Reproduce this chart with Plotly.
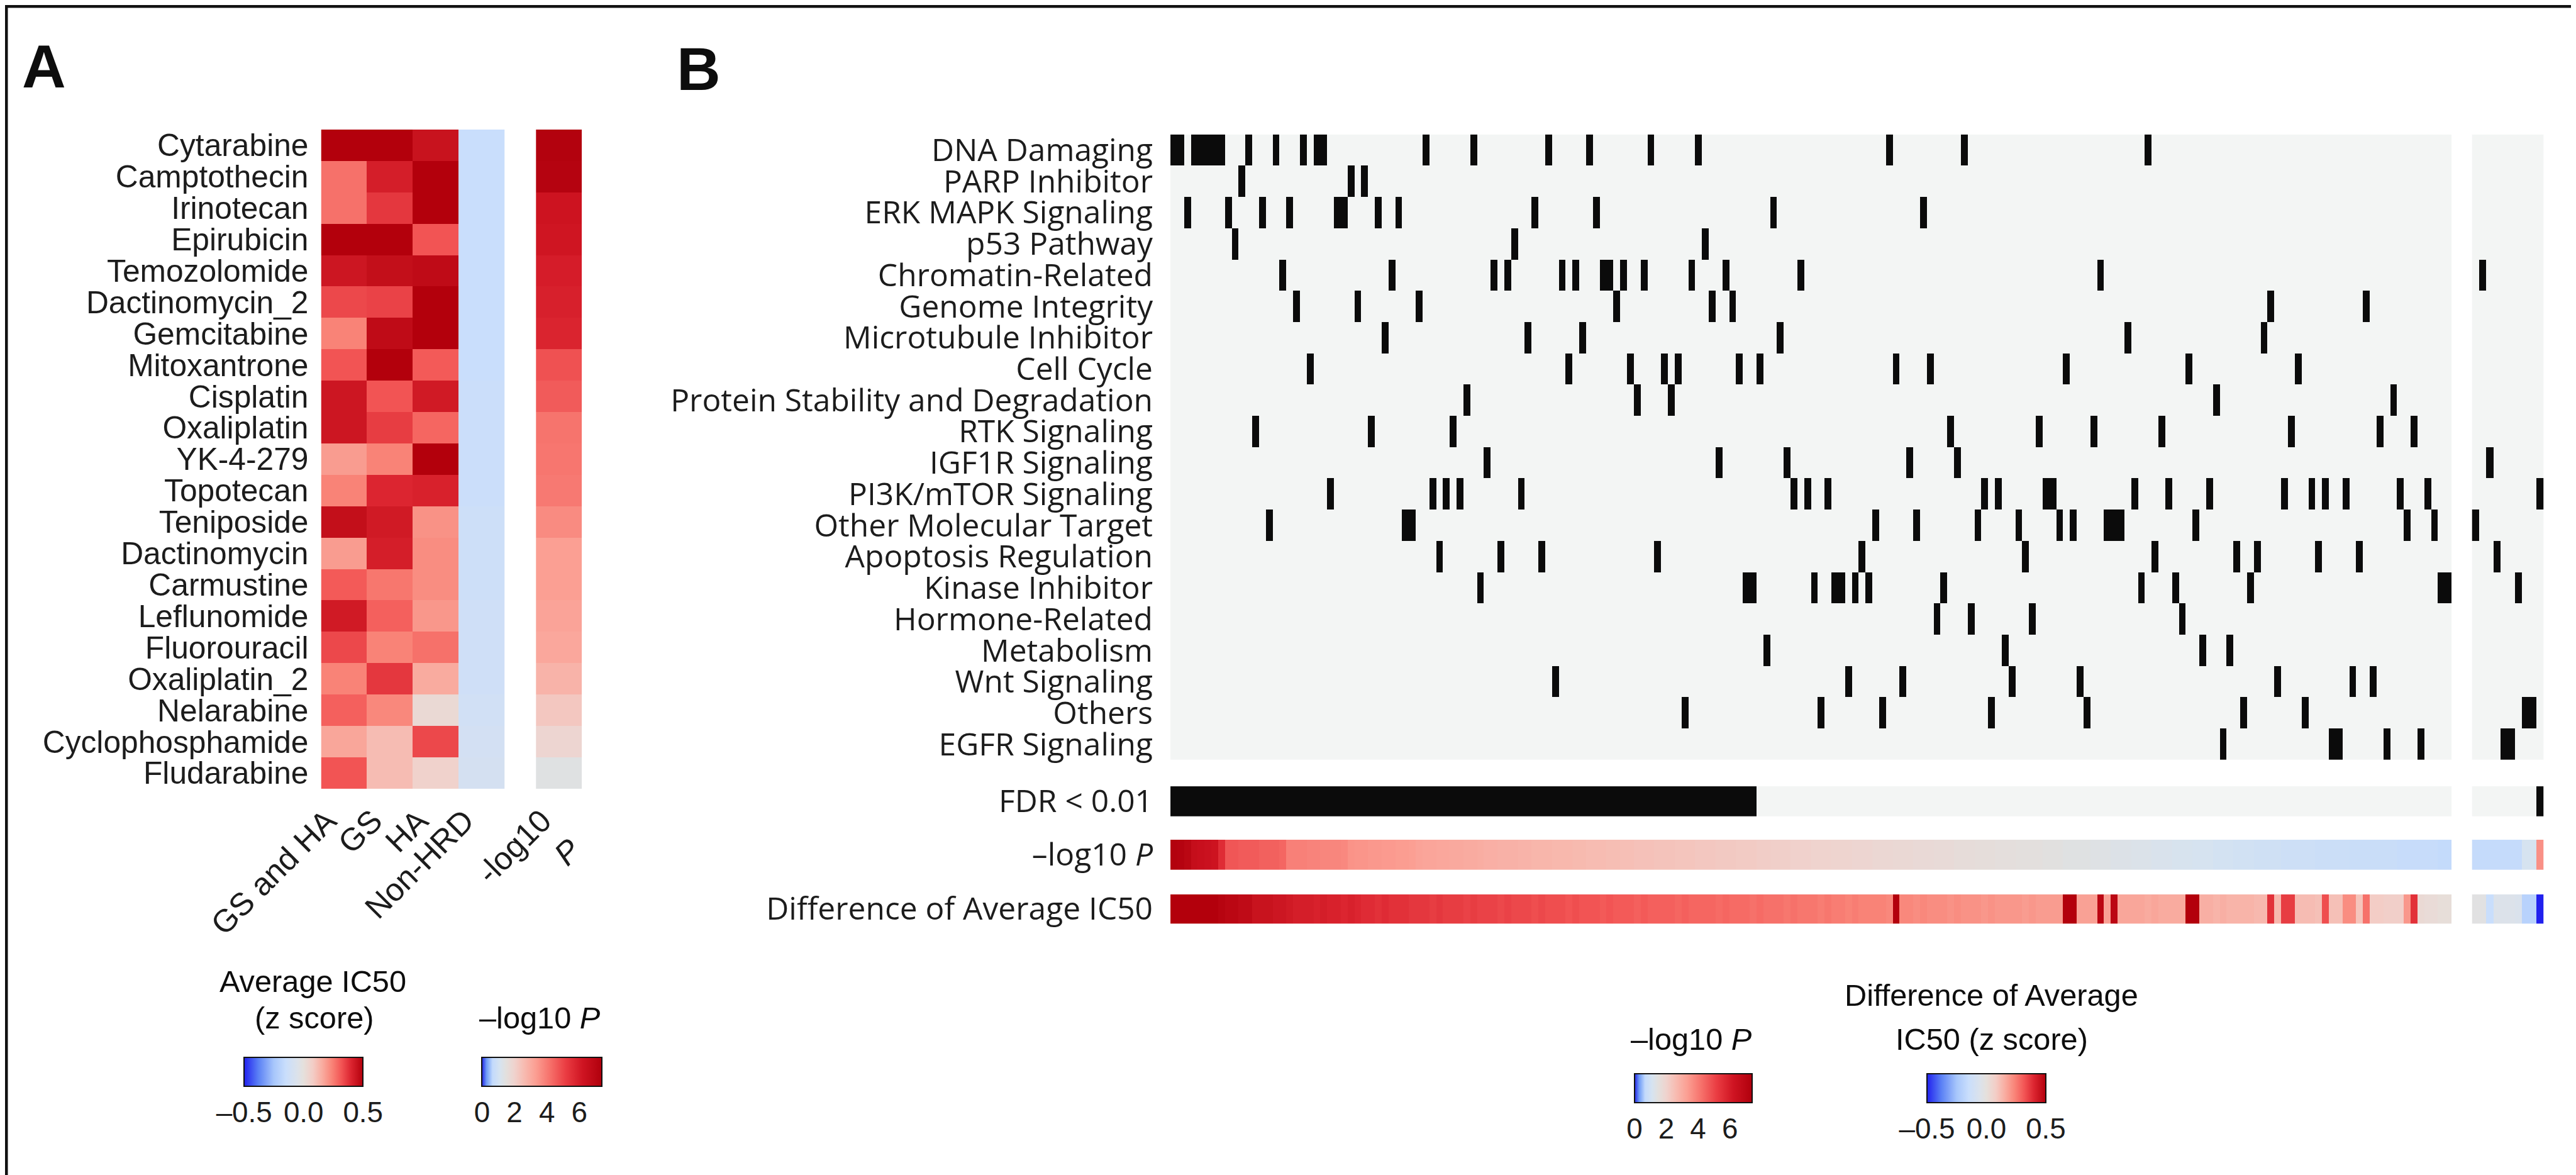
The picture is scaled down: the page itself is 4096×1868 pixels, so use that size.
import plotly.graph_objects as go

REF_W, REF_H = 4202, 1916
W, H = 4096, 1868
S = W / REF_W


def px(x):
    return x / REF_W


def py(y):
    return 1 - y / REF_H


def f(s):
    return s * S


def fi(s):
    return int(round(s * S))


FONT_A = "Liberation Sans, Arial, Helvetica, sans-serif"
FONT_B = "Open Sans, Noto Sans, sans-serif"
INK = "#1c1c1c"

# ---------------- Panel A data ----------------
drugs_A = ["Cytarabine", "Camptothecin", "Irinotecan", "Epirubicin", "Temozolomide",
           "Dactinomycin_2", "Gemcitabine", "Mitoxantrone", "Cisplatin", "Oxaliplatin",
           "YK-4-279", "Topotecan", "Teniposide", "Dactinomycin", "Carmustine",
           "Leflunomide", "Fluorouracil", "Oxaliplatin_2", "Nelarabine",
           "Cyclophosphamide", "Fludarabine"]
groups_A = ["GS and HA", "GS", "HA", "Non-HRD"]
ic50_gs_and_ha = [0.50, 0.27, 0.27, 0.50, 0.44, 0.34, 0.24, 0.32, 0.44, 0.44, 0.19,
                  0.24, 0.46, 0.19, 0.31, 0.43, 0.34, 0.24, 0.30, 0.17, 0.32]
ic50_gs = [0.50, 0.42, 0.37, 0.50, 0.46, 0.35, 0.47, 0.50, 0.32, 0.36, 0.24,
           0.40, 0.43, 0.42, 0.26, 0.30, 0.24, 0.37, 0.23, 0.12, 0.12]
ic50_ha = [0.45, 0.50, 0.50, 0.32, 0.47, 0.50, 0.50, 0.31, 0.43, 0.29, 0.50,
           0.41, 0.21, 0.22, 0.22, 0.20, 0.27, 0.16, 0.03, 0.34, 0.06]
ic50_non_hrd = [-0.15, -0.15, -0.15, -0.15, -0.15, -0.15, -0.15, -0.15, -0.14, -0.14, -0.14,
                -0.14, -0.13, -0.13, -0.13, -0.12, -0.12, -0.12, -0.11, -0.10, -0.09]
neglog10p_A = [7.3, 7.2, 6.3, 6.2, 6.0, 5.9, 5.8, 4.8, 4.6, 4.15, 4.1,
               4.05, 3.7, 3.3, 3.3, 3.2, 3.1, 2.8, 2.3, 1.9, 1.4]
pval_label_A = "-log10<br><i>P</i>"

# ---------------- Panel B data ----------------
categories_B = ["DNA Damaging", "PARP Inhibitor", "ERK MAPK Signaling", "p53 Pathway",
                "Chromatin-Related", "Genome Integrity", "Microtubule Inhibitor", "Cell Cycle",
                "Protein Stability and Degradation", "RTK Signaling", "IGF1R Signaling",
                "PI3K/mTOR Signaling", "Other Molecular Target", "Apoptosis Regulation",
                "Kinase Inhibitor", "Hormone-Related", "Metabolism", "Wnt Signaling",
                "Others", "EGFR Signaling"]

# drug column indices (0-187 = main block, 188-197 = right block)
cols_dna_damaging = [0, 1, 3, 4, 5, 6, 7, 11, 15, 19, 21, 22, 37, 44, 55, 61, 70, 77, 105, 116, 143]
cols_parp = [10, 26, 28]
cols_erk_mapk = [2, 8, 13, 17, 24, 25, 30, 33, 53, 62, 88, 110]
cols_p53 = [9, 50, 78]
cols_chromatin = [16, 32, 47, 49, 57, 59, 63, 64, 66, 69, 76, 81, 92, 136, 189]
cols_genome = [18, 27, 36, 65, 79, 82, 161, 175]
cols_microtubule = [31, 52, 60, 89, 140, 160]
cols_cell_cycle = [20, 58, 67, 72, 74, 83, 86, 106, 111, 131, 149, 165]
cols_protein_stability = [43, 68, 73, 153, 179]
cols_rtk = [12, 29, 41, 114, 127, 135, 145, 164, 177, 182]
cols_igf1r = [46, 80, 90, 108, 115, 190]
cols_pi3k = [23, 38, 40, 42, 51, 91, 93, 96, 119, 121, 128, 129, 141, 146, 152, 163, 167,
             169, 172, 180, 184, 197]
cols_other_target = [14, 34, 35, 103, 109, 118, 124, 130, 132, 137, 138, 139, 150, 181, 185, 188]
cols_apoptosis = [39, 48, 54, 71, 101, 125, 144, 156, 159, 168, 174, 191]
cols_kinase = [45, 84, 85, 94, 97, 98, 100, 102, 113, 142, 147, 158, 186, 187, 194]
cols_hormone = [112, 117, 126, 148]
cols_metabolism = [87, 122, 151, 155]
cols_wnt = [56, 99, 107, 123, 133, 162, 173, 176]
cols_others = [75, 95, 104, 120, 134, 157, 166, 195, 196]
cols_egfr = [154, 170, 171, 178, 183, 192, 193]

n_main = 188
n_side = 10

fdr_main = [1] * 86 + [0] * 102
fdr_side = [0] * 9 + [1]

neglog10p_main = [
    7.3, 7.2, 7.0, 6.6, 6.5, 6.4, 6.3, 5.6,
    4.7, 4.7, 4.6, 4.6, 4.6, 4.5, 4.5, 4.5, 4.4,
    3.9, 3.9, 3.9, 3.85, 3.85, 3.8, 3.8, 3.8, 3.75,
    3.55, 3.5, 3.5, 3.45, 3.45, 3.4, 3.4, 3.35, 3.35, 3.3,
    3.2, 3.15, 3.15, 3.1, 3.1, 3.05, 3.05, 3.0, 3.0, 2.95,
    2.9, 2.9, 2.85, 2.85, 2.85, 2.8, 2.8, 2.75, 2.75, 2.75,
    2.7, 2.7, 2.7, 2.65, 2.65, 2.6, 2.6, 2.6, 2.55, 2.55,
    2.5, 2.5, 2.45, 2.45, 2.45, 2.4, 2.4, 2.4, 2.35, 2.35,
    2.35, 2.3, 2.3, 2.3, 2.25, 2.25, 2.25, 2.2, 2.2, 2.2,
    2.15, 2.15, 2.1, 2.1, 2.1, 2.05, 2.05, 2.05, 2.0, 2.0,
    2.0, 1.95, 1.95, 1.95, 1.9, 1.9, 1.9, 1.85,
    1.85, 1.85, 1.8, 1.8, 1.8, 1.75, 1.75, 1.75, 1.7, 1.7, 1.7, 1.65, 1.65, 1.65, 1.6,
    1.6, 1.6, 1.55, 1.55, 1.55, 1.5, 1.5, 1.5, 1.5, 1.45, 1.45, 1.45, 1.4, 1.4, 1.4, 1.4,
    1.35, 1.35, 1.35,
    1.3, 1.3, 1.3, 1.25, 1.25, 1.25, 1.2, 1.2, 1.2, 1.15, 1.15, 1.15, 1.1, 1.1,
    1.1, 1.05, 1.05, 1.05, 1.0, 1.0, 1.0, 0.95, 0.95, 0.95, 0.95, 0.9, 0.9, 0.9, 0.9, 0.9, 0.85,
    0.85, 0.85, 0.85, 0.85, 0.8, 0.8, 0.8, 0.8, 0.8, 0.8, 0.8, 0.75, 0.75, 0.75, 0.75, 0.75,
    0.75, 0.7, 0.7]
neglog10p_side = [0.72, 0.72, 0.72, 0.72, 0.72, 0.72, 0.72, 1.1, 1.1, 3.6]

diff_main = [
    0.50, 0.50, 0.50, 0.50, 0.50, 0.50, 0.50,
    0.49, 0.48, 0.48, 0.47, 0.47,
    0.45, 0.45, 0.45, 0.44, 0.44,
    0.43, 0.42, 0.42, 0.42, 0.41, 0.42,
    0.41, 0.41, 0.40, 0.41, 0.40,
    0.39, 0.39, 0.38, 0.39, 0.38, 0.38, 0.38,
    0.37, 0.37, 0.37, 0.36, 0.37, 0.36, 0.36, 0.36, 0.35, 0.36, 0.35,
    0.35, 0.35, 0.34, 0.35, 0.34, 0.34, 0.34, 0.33, 0.34, 0.33,
    0.33, 0.33, 0.32, 0.33, 0.32, 0.32, 0.32, 0.31, 0.32, 0.31,
    0.31, 0.31, 0.30, 0.31, 0.30, 0.30, 0.30, 0.30, 0.29, 0.30, 0.29, 0.29, 0.29,
    0.29, 0.28, 0.29, 0.28, 0.28, 0.28, 0.27, 0.28, 0.27, 0.27, 0.27, 0.26, 0.27, 0.26,
    0.26, 0.26, 0.25, 0.26, 0.25, 0.25, 0.24, 0.25, 0.24, 0.24, 0.24,
    0.24, 0.23,
    0.50,
    0.23, 0.23, 0.22, 0.23, 0.22, 0.22, 0.22, 0.21, 0.22, 0.21, 0.21, 0.21,
    0.20, 0.21, 0.20, 0.20, 0.20, 0.20, 0.19, 0.20, 0.19, 0.19, 0.19, 0.19,
    0.50, 0.50,
    0.18, 0.18, 0.18,
    0.48,
    0.18,
    0.48,
    0.17, 0.17, 0.17, 0.17, 0.16, 0.17, 0.16, 0.16, 0.16, 0.16,
    0.50, 0.50,
    0.15, 0.15, 0.14, 0.15, 0.14, 0.14, 0.14, 0.14, 0.13, 0.13,
    0.38,
    0.13,
    0.36, 0.36,
    0.12, 0.12, 0.12, 0.11,
    0.33,
    0.11, 0.11,
    0.22, 0.22,
    0.10,
    0.27,
    0.08, 0.08, 0.07, 0.07, 0.07,
    0.20,
    0.38,
    0.03, 0.02, 0.02, 0.01, 0.01]
diff_side = [-0.02, -0.02, -0.15, -0.05, -0.05, -0.05, -0.06, -0.20, -0.20, -0.50]

row_label_fdr = "FDR < 0.01"
row_label_p = "–log10 <i>P</i>"
row_label_diff = "Difference of Average IC50"

# ---------------- colour scales ----------------
DIFF_CS = [[0.00, "#2121ee"], [0.12, "#5a80f5"], [0.25, "#a7c6fb"], [0.35, "#c9defc"],
           [0.45, "#dce2ea"], [0.50, "#e5e0dc"], [0.58, "#f3cdc6"], [0.66, "#f9ab9f"],
           [0.74, "#f98377"], [0.82, "#f25454"], [0.90, "#dc2530"], [1.00, "#b3000c"]]
P_CS = [[0.00, "#1f1fe6"], [0.04, "#6f9cf7"], [0.09, "#c3dafc"], [0.15, "#d6e3f0"],
        [0.20, "#e2e0de"], [0.27, "#efd3ce"], [0.35, "#f7bcb2"], [0.45, "#fb9e92"],
        [0.57, "#f6706a"], [0.70, "#ea3c42"], [0.84, "#cf1422"], [1.00, "#b0000c"]]
BIN_CS = [[0, "#f3f5f4"], [1, "#0b0b0b"]]
P_MAX = 7.4

# ---------------- build tables ----------------
hits = [cols_dna_damaging, cols_parp, cols_erk_mapk, cols_p53, cols_chromatin, cols_genome,
        cols_microtubule, cols_cell_cycle, cols_protein_stability, cols_rtk, cols_igf1r,
        cols_pi3k, cols_other_target, cols_apoptosis, cols_kinase, cols_hormone,
        cols_metabolism, cols_wnt, cols_others, cols_egfr]
x_main = list(range(n_main))
x_side = list(range(n_main, n_main + n_side))
z_main = [[1 if c in set(h) else 0 for c in x_main] for h in hits]
z_side = [[1 if c in set(h) else 0 for c in x_side] for h in hits]
z_A = [list(r) for r in zip(ic50_gs_and_ha, ic50_gs, ic50_ha, ic50_non_hrd)]


def cbar(xc, ytop, length, thick, tickvals, ticktext):
    return dict(orientation="h", x=px(xc), xanchor="center", y=py(ytop), yanchor="top",
                lenmode="pixels", len=f(length), thicknessmode="pixels", thickness=f(thick),
                outlinewidth=2, outlinecolor="#111111", xpad=0, ypad=0,
                ticks="outside", ticklen=2, tickcolor="rgba(0,0,0,0)",
                tickvals=tickvals, ticktext=ticktext,
                tickfont=dict(family=FONT_A, size=f(47), color=INK))


fig = go.Figure()

# Panel A heatmaps
fig.add_trace(go.Heatmap(z=z_A, x=groups_A, y=drugs_A, xaxis="x", yaxis="y",
                         colorscale=DIFF_CS, zmin=-0.5, zmax=0.5, hoverinfo="skip",
                         colorbar=cbar(487, 1716, 194, 47, [-0.5, 0, 0.5],
                                       ["–0.5", "0.0", "0.5"])))
fig.add_trace(go.Heatmap(z=[[v] for v in neglog10p_A], x=[pval_label_A], y=drugs_A,
                         xaxis="x2", yaxis="y", colorscale=P_CS, zmin=0, zmax=P_MAX,
                         hoverinfo="skip",
                         colorbar=cbar(876, 1716, 196, 47, [0, 2, 4, 6],
                                       ["0", "2", "4", "6"])))

# Panel B matrix
fig.add_trace(go.Heatmap(z=z_main, x=x_main, y=categories_B, xaxis="x3", yaxis="y2",
                         colorscale=BIN_CS, zmin=0, zmax=1, showscale=False, hoverinfo="skip"))
fig.add_trace(go.Heatmap(z=z_side, x=x_side, y=categories_B, xaxis="x4", yaxis="y2",
                         colorscale=BIN_CS, zmin=0, zmax=1, showscale=False, hoverinfo="skip"))
# FDR row
fig.add_trace(go.Heatmap(z=[fdr_main], x=x_main, y=[row_label_fdr], xaxis="x3", yaxis="y3",
                         colorscale=BIN_CS, zmin=0, zmax=1, showscale=False, hoverinfo="skip"))
fig.add_trace(go.Heatmap(z=[fdr_side], x=x_side, y=[row_label_fdr], xaxis="x4", yaxis="y3",
                         colorscale=BIN_CS, zmin=0, zmax=1, showscale=False, hoverinfo="skip"))
# -log10 P row
fig.add_trace(go.Heatmap(z=[neglog10p_main], x=x_main, y=[row_label_p], xaxis="x3", yaxis="y4",
                         colorscale=P_CS, zmin=0, zmax=P_MAX, hoverinfo="skip",
                         colorbar=cbar(2754, 1743, 192, 47, [0, 2, 4, 6],
                                       ["0", "2", "4", "6"])))
fig.add_trace(go.Heatmap(z=[neglog10p_side], x=x_side, y=[row_label_p], xaxis="x4", yaxis="y4",
                         colorscale=P_CS, zmin=0, zmax=P_MAX, showscale=False, hoverinfo="skip"))
# Difference row
fig.add_trace(go.Heatmap(z=[diff_main], x=x_main, y=[row_label_diff], xaxis="x3", yaxis="y5",
                         colorscale=DIFF_CS, zmin=-0.5, zmax=0.5, hoverinfo="skip",
                         colorbar=cbar(3232, 1743, 194, 47, [-0.5, 0, 0.5],
                                       ["–0.5", "0.0", "0.5"])))
fig.add_trace(go.Heatmap(z=[diff_side], x=x_side, y=[row_label_diff], xaxis="x4", yaxis="y5",
                         colorscale=DIFF_CS, zmin=-0.5, zmax=0.5, showscale=False,
                         hoverinfo="skip"))

hidden = dict(showgrid=False, zeroline=False, showline=False, ticks="", automargin=False)

fig.update_layout(
    width=W, height=H, margin=dict(l=0, r=0, t=0, b=0, autoexpand=False),
    paper_bgcolor="white", plot_bgcolor="white", showlegend=False,
    font=dict(family=FONT_A, color=INK),
    xaxis=dict(domain=[px(515.5), px(815)], anchor="y", tickangle=-45,
               tickmode="array", tickvals=groups_A, ticktext=groups_A,
               tickfont=dict(family=FONT_A, size=f(52), color=INK),
               ticklabelstandoff=fi(10), ticklabelshift=-fi(28), **hidden),
    xaxis2=dict(domain=[px(866), px(941)], anchor="y", tickangle=-45,
                tickfont=dict(family=FONT_A, size=f(52), color=INK),
                ticklabelstandoff=fi(10), ticklabelshift=-fi(28), **hidden),
    yaxis=dict(domain=[py(1278), py(203)], anchor="x", autorange="reversed",
               tickmode="array", tickvals=drugs_A, ticktext=drugs_A,
               tickfont=dict(family=FONT_A, size=f(51), color=INK),
               ticklabelstandoff=fi(20), **hidden),
    xaxis3=dict(domain=[px(1901), px(3991)], anchor="y2", range=[-0.5, n_main - 0.5],
                showticklabels=False, **hidden),
    xaxis4=dict(domain=[px(4024), px(4141)], anchor="y2",
                range=[n_main - 0.5, n_main + n_side - 0.5], showticklabels=False, **hidden),
    yaxis2=dict(domain=[py(1231), py(211)], anchor="x3", autorange="reversed",
                tickmode="array", tickvals=categories_B, ticktext=categories_B,
                tickfont=dict(family=FONT_B, size=f(51), color=INK),
                ticklabelstandoff=fi(28), **hidden),
    yaxis3=dict(domain=[py(1323), py(1274)], anchor="x3",
                tickfont=dict(family=FONT_B, size=f(51), color=INK),
                ticklabelstandoff=fi(28), **hidden),
    yaxis4=dict(domain=[py(1410), py(1361)], anchor="x3",
                tickfont=dict(family=FONT_B, size=f(51), color=INK),
                ticklabelstandoff=fi(28), **hidden),
    yaxis5=dict(domain=[py(1498), py(1450)], anchor="x3",
                tickfont=dict(family=FONT_B, size=f(51), color=INK),
                ticklabelstandoff=fi(28), **hidden),
)


def note(text, x, y, size, xanchor="center", bold=False):
    fig.add_annotation(text=f"<b>{text}</b>" if bold else text, x=px(x), y=py(y),
                       xref="paper", yref="paper", xanchor=xanchor, yanchor="middle",
                       showarrow=False, font=dict(family=FONT_A, size=f(size), color="#0d0d0d"))


note("A", 26, 100, 99, xanchor="left", bold=True)
note("B", 1094, 104, 99, xanchor="left", bold=True)
note("Average IC50", 502, 1592, 50)
note("(z score)", 504, 1651, 50)
note("–log10 <i>P</i>", 872, 1651, 50)
note("–log10 <i>P</i>", 2751, 1686, 50)
note("Difference of Average", 3240, 1614, 50)
note("IC50 (z score)", 3241, 1686, 50)

fig.add_shape(type="rect", xref="paper", yref="paper", x0=0, y0=0, x1=1, y1=1,
              line=dict(color="#111111", width=9), fillcolor="rgba(0,0,0,0)")

fig.write_html("out.html")
